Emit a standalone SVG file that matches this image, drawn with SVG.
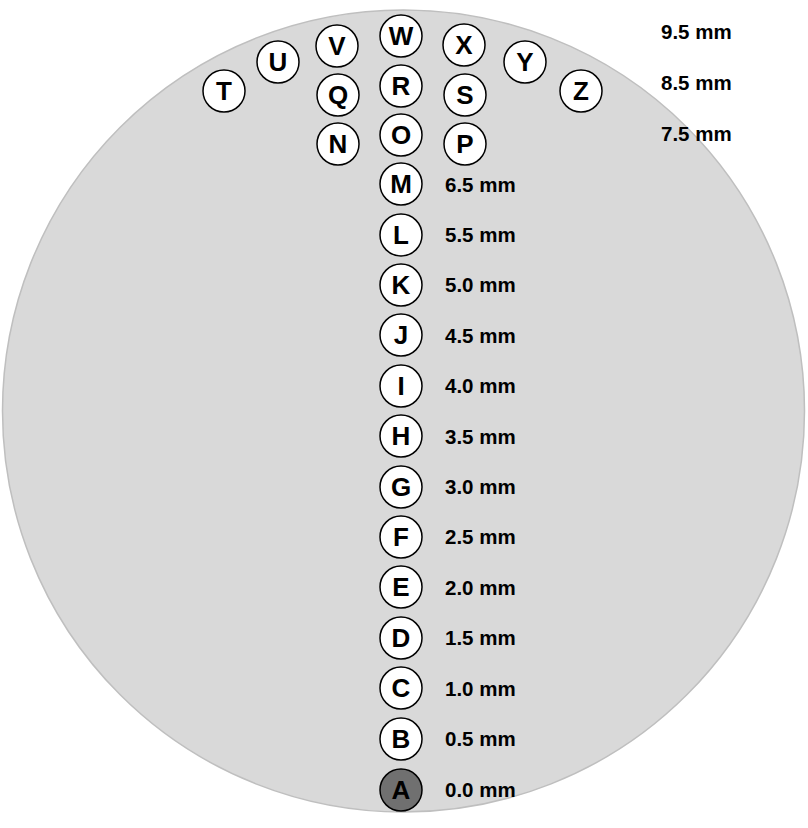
<svg xmlns="http://www.w3.org/2000/svg" width="808" height="828" viewBox="0 0 808 828">
<style>
.n circle{fill:#ffffff;stroke:#000000;stroke-width:1.5}
.n text{font-family:"Liberation Sans",Arial,sans-serif;font-weight:bold;font-size:26px;text-anchor:middle;fill:#000}
.lbl{font-family:"Liberation Sans",Arial,sans-serif;font-weight:bold;font-size:20.5px;fill:#000}
</style>
<rect width="808" height="828" fill="#ffffff"/>
<circle id="disc" cx="403.5" cy="411" r="401" fill="#d9d9d9" stroke="#bfbfbf" stroke-width="1.5"/>
<g id="connectors"/>
<g id="nA" class="n"><circle cx="401" cy="790" r="21" style="fill:#707070"/><text x="401" y="799">A</text></g>
<g id="nB" class="n"><circle cx="401" cy="739" r="21"/><text x="401" y="748">B</text></g>
<g id="nC" class="n"><circle cx="401" cy="688" r="21"/><text x="401" y="697">C</text></g>
<g id="nD" class="n"><circle cx="401" cy="638" r="21"/><text x="401" y="647">D</text></g>
<g id="nE" class="n"><circle cx="401" cy="587" r="21"/><text x="401" y="596">E</text></g>
<g id="nF" class="n"><circle cx="401" cy="537" r="21"/><text x="401" y="546">F</text></g>
<g id="nG" class="n"><circle cx="401" cy="487" r="21"/><text x="401" y="496">G</text></g>
<g id="nH" class="n"><circle cx="401" cy="436" r="21"/><text x="401" y="445">H</text></g>
<g id="nI" class="n"><circle cx="401" cy="386" r="21"/><text x="401" y="395">I</text></g>
<g id="nJ" class="n"><circle cx="401" cy="335" r="21"/><text x="401" y="344">J</text></g>
<g id="nK" class="n"><circle cx="401" cy="285" r="21"/><text x="401" y="294">K</text></g>
<g id="nL" class="n"><circle cx="401" cy="235" r="21"/><text x="401" y="244">L</text></g>
<g id="nM" class="n"><circle cx="401" cy="184" r="21"/><text x="401" y="193">M</text></g>
<g id="nO" class="n"><circle cx="401" cy="135" r="21"/><text x="401" y="144">O</text></g>
<g id="nR" class="n"><circle cx="401" cy="86" r="21"/><text x="401" y="95">R</text></g>
<g id="nW" class="n"><circle cx="401" cy="36" r="21"/><text x="401" y="45">W</text></g>
<g id="nN" class="n"><circle cx="338" cy="144" r="21"/><text x="338" y="153">N</text></g>
<g id="nQ" class="n"><circle cx="338" cy="95" r="21"/><text x="338" y="104">Q</text></g>
<g id="nV" class="n"><circle cx="337" cy="46" r="21"/><text x="337" y="55">V</text></g>
<g id="nP" class="n"><circle cx="465" cy="144" r="21"/><text x="465" y="153">P</text></g>
<g id="nS" class="n"><circle cx="465" cy="95" r="21"/><text x="465" y="104">S</text></g>
<g id="nX" class="n"><circle cx="464" cy="45" r="21"/><text x="464" y="54">X</text></g>
<g id="nU" class="n"><circle cx="278" cy="62" r="21"/><text x="278" y="71">U</text></g>
<g id="nY" class="n"><circle cx="525" cy="62" r="21"/><text x="525" y="71">Y</text></g>
<g id="nT" class="n"><circle cx="224" cy="91" r="21"/><text x="224" y="100">T</text></g>
<g id="nZ" class="n"><circle cx="581" cy="91" r="21"/><text x="581" y="100">Z</text></g>
<g id="labels">
<text class="lbl" x="445" y="797">0.0 mm</text>
<text class="lbl" x="445" y="746">0.5 mm</text>
<text class="lbl" x="445" y="696">1.0 mm</text>
<text class="lbl" x="445" y="645">1.5 mm</text>
<text class="lbl" x="445" y="595">2.0 mm</text>
<text class="lbl" x="445" y="544">2.5 mm</text>
<text class="lbl" x="445" y="494">3.0 mm</text>
<text class="lbl" x="445" y="444">3.5 mm</text>
<text class="lbl" x="445" y="393">4.0 mm</text>
<text class="lbl" x="445" y="343">4.5 mm</text>
<text class="lbl" x="445" y="292">5.0 mm</text>
<text class="lbl" x="445" y="242">5.5 mm</text>
<text class="lbl" x="445" y="192">6.5 mm</text>
<text class="lbl" x="661" y="141">7.5 mm</text>
<text class="lbl" x="661" y="90">8.5 mm</text>
<text class="lbl" x="661" y="39">9.5 mm</text>
</g>
</svg>
